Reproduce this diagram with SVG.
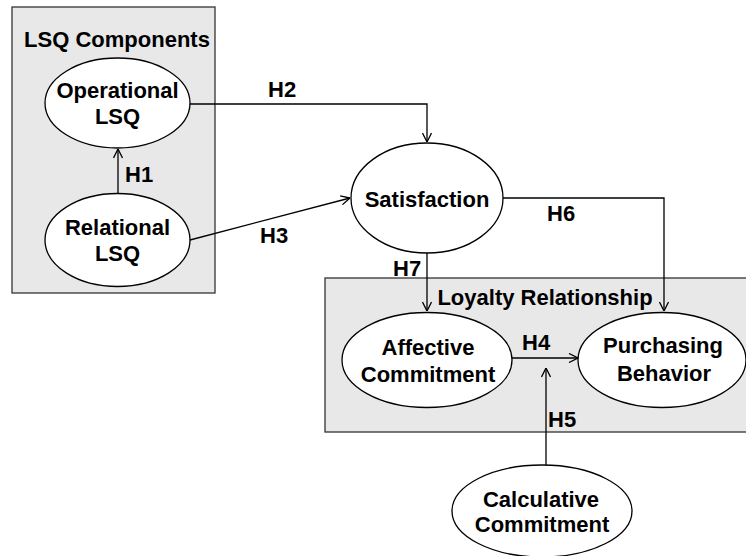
<svg xmlns="http://www.w3.org/2000/svg" width="746" height="556" viewBox="0 0 746 556">
<style>
.box{fill:#e8e8e8;stroke:#333;stroke-width:1.3}
.node{fill:#fff;stroke:#000;stroke-width:1.3}
text{font-family:"Liberation Sans",Arial,sans-serif;font-weight:bold;font-size:22px;fill:#000}
.c{text-anchor:middle}
.edge{fill:none;stroke:#000;stroke-width:1.3;marker-end:url(#arr)}
</style>
<defs>
<marker id="arr" viewBox="0 0 10 10" refX="10" refY="5" markerWidth="10" markerHeight="10" markerUnits="userSpaceOnUse" orient="auto">
<path d="M1,0.5 L10,5 L1,9.5" fill="none" stroke="#000" stroke-width="1.3"/>
</marker>
</defs>
<rect width="746" height="556" fill="#fff"/>
<g id="lsq-components">
<rect class="box" x="12" y="7" width="203" height="286"/>
<text class="c" x="117" y="47">LSQ Components</text>
</g>
<g id="loyalty-relationship">
<rect class="box" x="325" y="278" width="430" height="154"/>
<text class="c" x="545" y="305">Loyalty Relationship</text>
</g>
<g id="operational-lsq">
<ellipse class="node" cx="117.5" cy="103" rx="72.5" ry="45"/>
<text class="c" x="117.5" y="98">Operational</text>
<text class="c" x="117.5" y="124">LSQ</text>
</g>
<g id="relational-lsq">
<ellipse class="node" cx="117.5" cy="240" rx="72.5" ry="46.5"/>
<text class="c" x="117.5" y="235">Relational</text>
<text class="c" x="117.5" y="261">LSQ</text>
</g>
<g id="satisfaction">
<ellipse class="node" cx="427" cy="198" rx="76" ry="55"/>
<text class="c" x="427" y="207">Satisfaction</text>
</g>
<g id="affective-commitment">
<ellipse class="node" cx="427" cy="360" rx="85" ry="47.5"/>
<text class="c" x="428" y="355">Affective</text>
<text class="c" x="428" y="382">Commitment</text>
</g>
<g id="purchasing-behavior">
<ellipse class="node" cx="662" cy="360" rx="84" ry="47.5"/>
<text class="c" x="663" y="353">Purchasing</text>
<text class="c" x="664" y="381">Behavior</text>
</g>
<g id="calculative-commitment">
<ellipse class="node" cx="542" cy="511" rx="90" ry="46"/>
<text class="c" x="541" y="507">Calculative</text>
<text class="c" x="542" y="532">Commitment</text>
</g>
<g id="connectors">
<path class="edge" d="M118,194 L118,149"/>
<path class="edge" d="M190,104 L427,104 L427,142"/>
<path class="edge" d="M190,240 L350,198"/>
<path class="edge" d="M503,198 L664,198 L664,311"/>
<path class="edge" d="M427,253 L427,311"/>
<path class="edge" d="M512,358 L578,358"/>
<path class="edge" d="M546,465 L546,368"/>
<text x="125" y="182">H1</text>
<text x="268" y="97">H2</text>
<text x="260" y="243">H3</text>
<text x="522" y="350">H4</text>
<text x="548" y="427">H5</text>
<text x="547" y="221">H6</text>
<text x="393" y="276">H7</text>
</g>
</svg>
